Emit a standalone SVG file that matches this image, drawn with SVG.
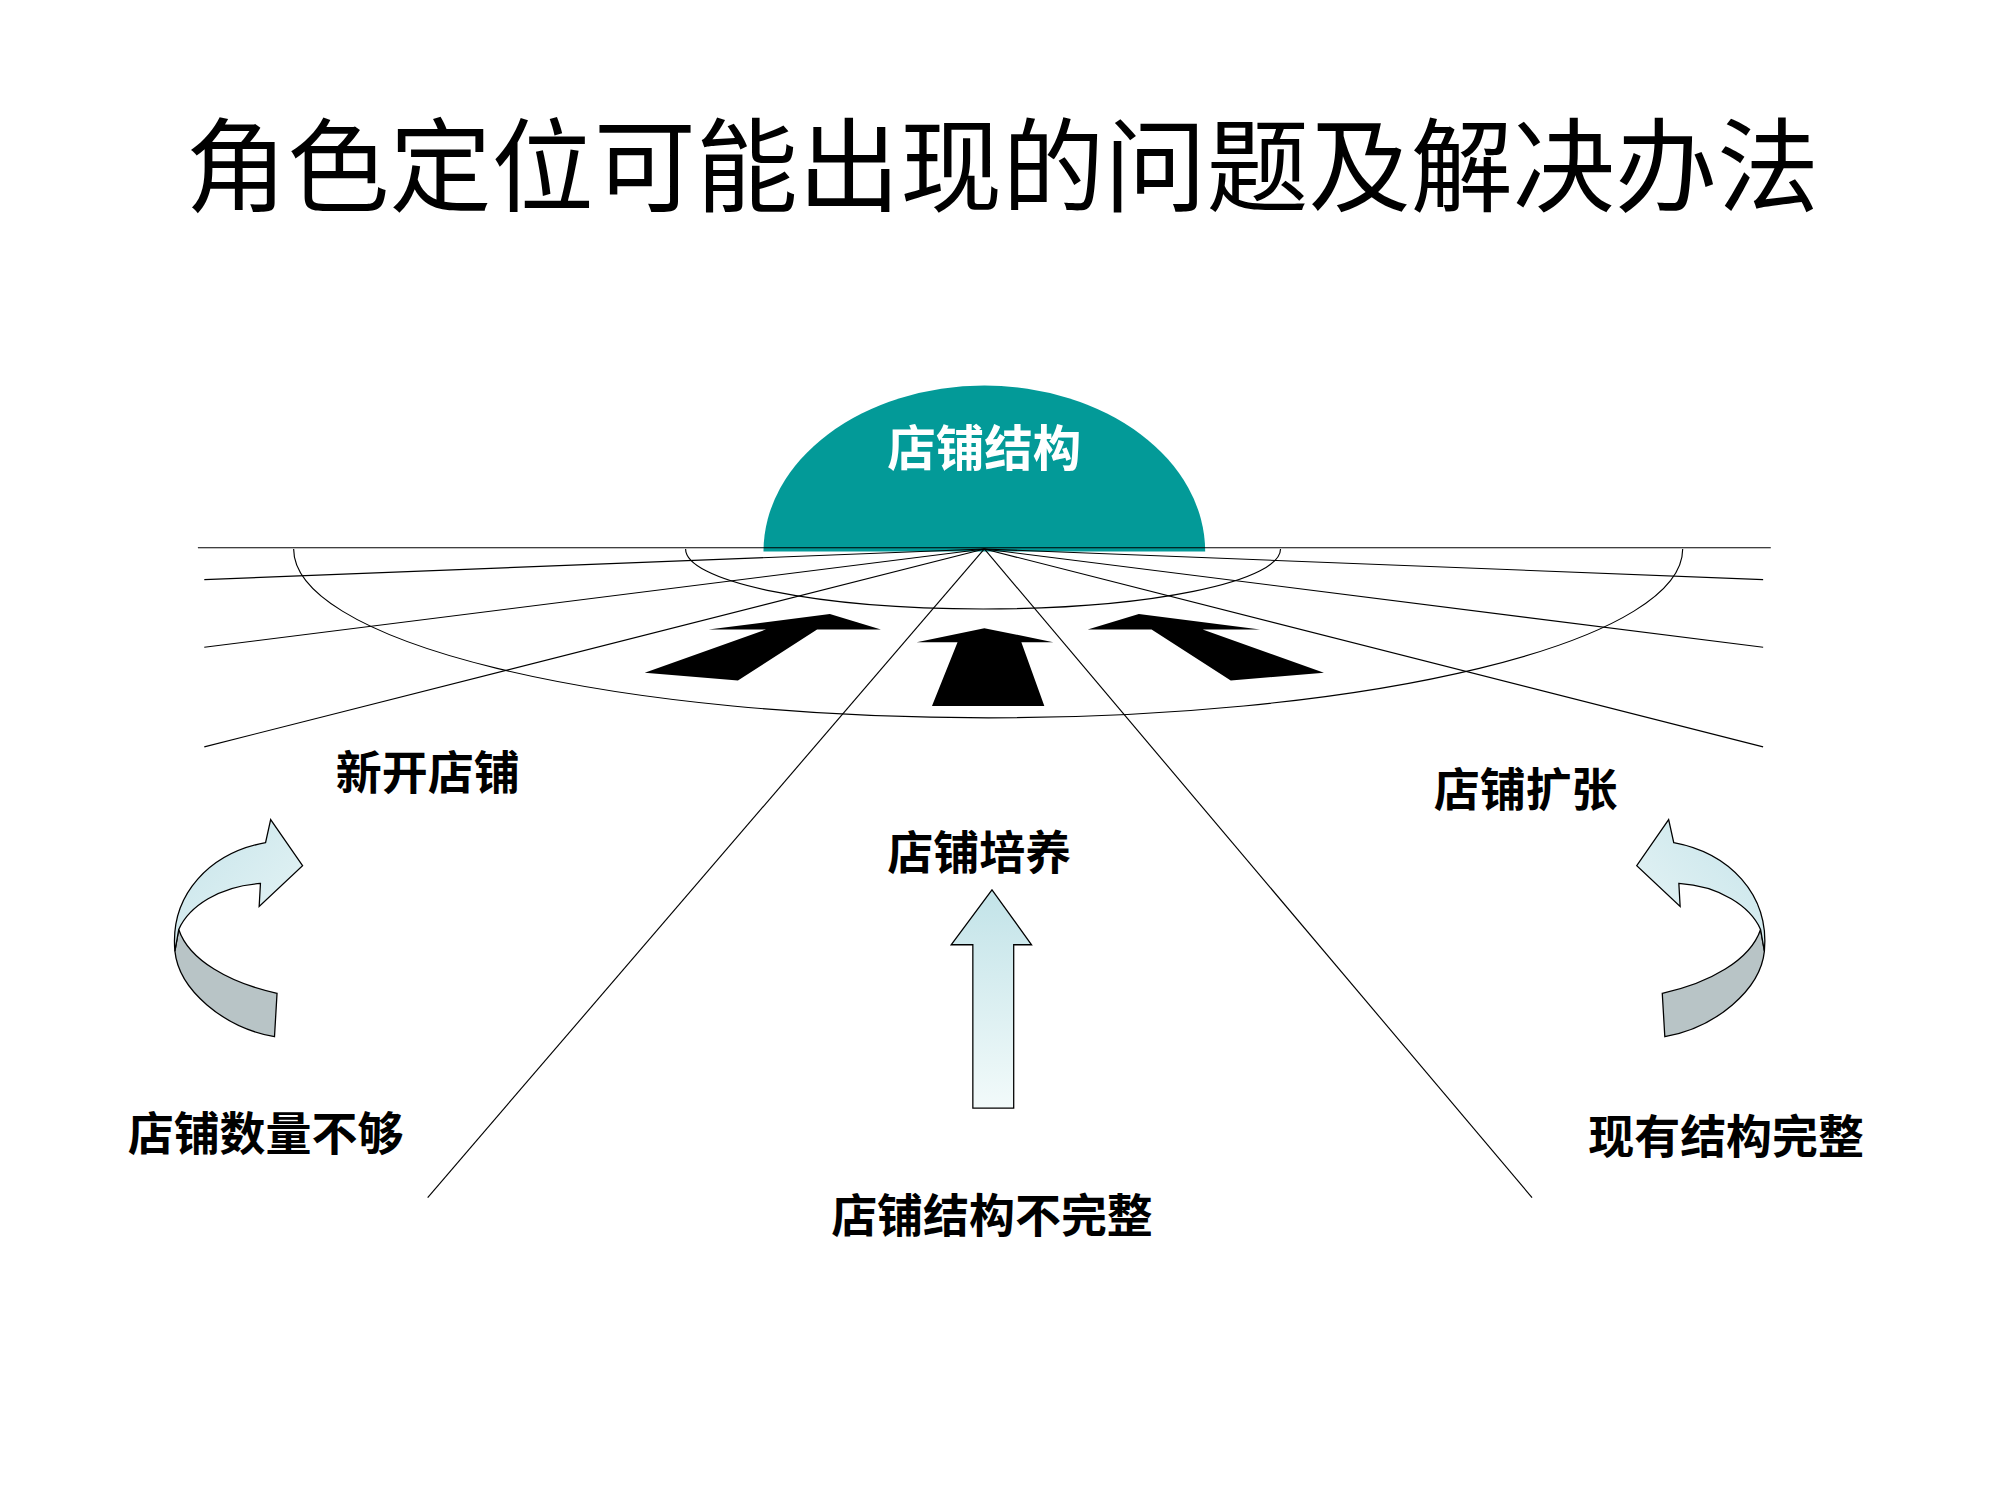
<svg xmlns="http://www.w3.org/2000/svg" width="2000" height="1500" viewBox="0 0 2000 1500">
<defs>
<style>
.t{font-family:"Liberation Serif","Noto Sans CJK SC",serif;fill:#000;text-anchor:middle}
.lbl{font-size:36px;font-weight:bold}
.ln{stroke:#000;stroke-width:0.9;fill:none}
</style>
<linearGradient id="g1" x1="0" y1="0" x2="0" y2="1"><stop offset="0" stop-color="#c2e3e8"/><stop offset="1" stop-color="#f2fafa"/></linearGradient>
<linearGradient id="g2" x1="0" y1="0" x2="1" y2="1"><stop offset="0" stop-color="#c6e4ea"/><stop offset="1" stop-color="#e8f5f6"/></linearGradient>
</defs>
<rect width="2000" height="1500" fill="#fff"/>
<g transform="scale(1.2767)">
<text class="t" x="785" y="160" font-size="80">角色定位可能出现的问题及解决办法</text>
<g id="dome">
<path d="M598,432 A173,130 0 0 1 944,432 Z" fill="#039a98"/>
<text class="t" x="771" y="365" font-size="38" font-weight="bold" style="fill:#fff">店铺结构</text>
</g>
<g id="connectors" class="ln">
<line x1="155" y1="429" x2="1387" y2="429"/>
<line x1="771" y1="430" x2="160" y2="454"/>
<line x1="771" y1="430" x2="160" y2="507"/>
<line x1="771" y1="430" x2="160" y2="585"/>
<line x1="771" y1="430" x2="335" y2="938"/>
<line x1="771" y1="430" x2="1381" y2="454"/>
<line x1="771" y1="430" x2="1381" y2="507"/>
<line x1="771" y1="430" x2="1381" y2="585"/>
<line x1="771" y1="430" x2="1200" y2="938"/>
<path d="M230,430 A543,132 0 0 0 1318,430"/>
<path d="M537,430 A233,47 0 0 0 1003,430"/>
</g>
<g id="black-arrows" fill="#000">
<polygon points="771,492 825,503 800,503 818,553 730,553 750,503 718,503"/>
<polygon points="505,527 600,493 555,493 650,481 690,493 640,493 578,533"/>
<polygon points="1037,527 942,493 987,493 892,481 852,493 902,493 964,533"/>
</g>
<g id="up-arrow">
<polygon points="777,697 808,740 794,740 794,868 762,868 762,740 745,740" fill="url(#g1)" stroke="#000" stroke-width="1"/>
</g>
<g id="curve-left" stroke="#000" stroke-width="1">
<path d="M217,778 C180,770 148,752 140,728 L137,745 C140,775 175,805 215,812 Z" fill="#b8c4c6"/>
<path d="M137,745 C133,700 165,668 208,660 L212,642 L237,678 L203,710 L204,692 C172,694 148,710 140,728 Z" fill="url(#g2)"/>
</g>
<g id="curve-right" transform="translate(1519,0) scale(-1,1)" stroke="#000" stroke-width="1">
<path d="M217,778 C180,770 148,752 140,728 L137,745 C140,775 175,805 215,812 Z" fill="#b8c4c6"/>
<path d="M137,745 C133,700 165,668 208,660 L212,642 L237,678 L203,710 L204,692 C172,694 148,710 140,728 Z" fill="url(#g2)"/>
</g>
<g id="labels">
<text class="t lbl" x="335" y="618">新开店铺</text>
<text class="t lbl" x="1195" y="631">店铺扩张</text>
<text class="t lbl" x="767" y="681">店铺培养</text>
<text class="t lbl" x="208" y="901">店铺数量不够</text>
<text class="t lbl" x="777" y="965">店铺结构不完整</text>
<text class="t lbl" x="1352" y="903">现有结构完整</text>
</g>
</g>
</svg>
